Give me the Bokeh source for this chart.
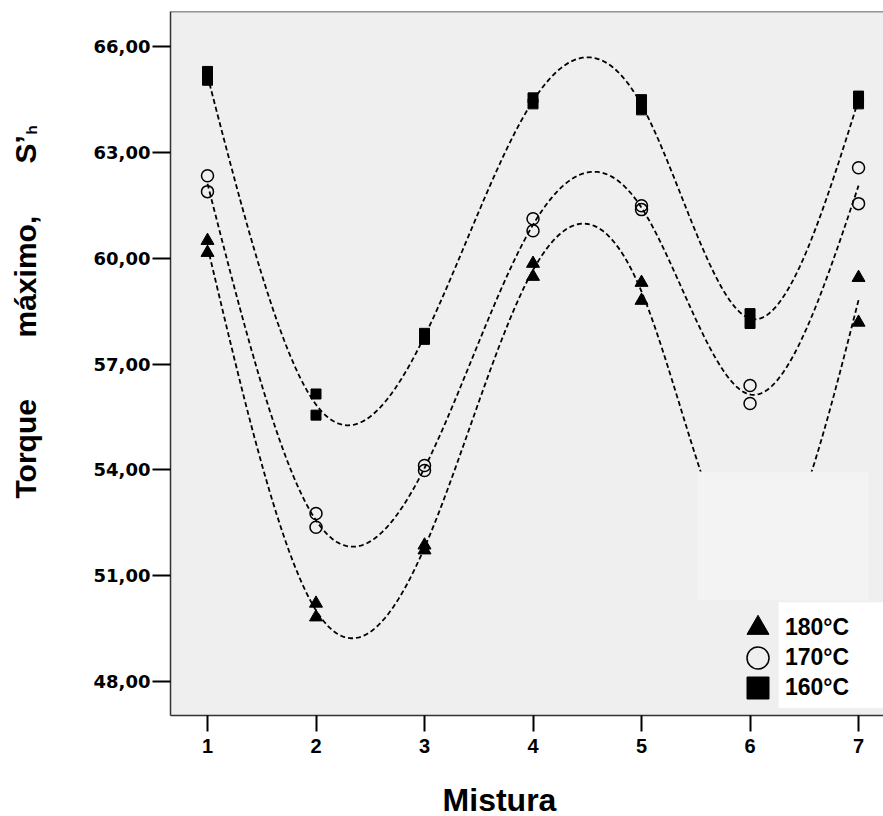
import math
import numpy as np
from bokeh.plotting import figure
from bokeh.layouts import row, column
from bokeh.models import (ColumnDataSource, Range1d, FixedTicker, Legend,
                          LegendItem, BoxAnnotation, Span)
from bokeh.core.properties import value
from bokeh.embed import file_html
from bokeh.resources import INLINE

# ---------------- data ----------------
mistura = [1, 1, 2, 2, 3, 3, 4, 4, 5, 5, 6, 6, 7, 7]
torque_160 = [65.30, 65.05, 56.15, 55.55, 57.87, 57.70, 64.55, 64.38,
              64.50, 64.21, 58.43, 58.15, 64.60, 64.38]
torque_170 = [62.34, 61.89, 52.76, 52.37, 54.12, 53.98, 61.12, 60.78,
              61.49, 61.38, 56.39, 55.88, 62.57, 61.55]
torque_180 = [60.50, 60.16, 50.21, 49.82, 51.86, 51.72, 59.85, 59.48,
              59.31, 58.80, 51.40, 51.00, 59.45, 58.18]
series_labels = ["180°C", "170°C", "160°C"]
x_ticks = [1, 2, 3, 4, 5, 6, 7]
y_ticks = [48, 51, 54, 57, 60, 63, 66]
y_tick_labels = ["48,00", "51,00", "54,00", "57,00", "60,00", "63,00", "66,00"]
y_title_words = ["Torque", "máximo,", "S’"]
y_title_sub = "h"
x_title = "Mistura"

BG = "#efefef"
FONT = "Liberation Sans"
W, H = 883, 816
LEFT_W = 60      # strip holding the y title
TOP_H = 770      # main plot row
BOTTOM_H = H - TOP_H  # strip holding the x title

p = figure(width=W - LEFT_W, height=TOP_H, output_backend="svg", toolbar_location=None,
           x_range=Range1d(0.659, 7.23), y_range=Range1d(47.03, 67.0),
           min_border_left=170 - LEFT_W, min_border_right=0, min_border_top=11,
           min_border_bottom=TOP_H - 715)
p.background_fill_color = BG
p.border_fill_color = "white"
p.outline_line_color = None
p.xgrid.visible = False
p.ygrid.visible = False


# smooth interpolating curve: natural cubic spline through the group means
def spline_curve(xv, yv, n=400):
    xs_u = np.unique(np.asarray(xv, dtype=float))
    ym = np.array([np.mean([b for a, b in zip(xv, yv) if a == u]) for u in xs_u])
    k = len(xs_u)
    h = np.diff(xs_u)
    A = np.zeros((k, k))
    r = np.zeros(k)
    A[0, 0] = A[-1, -1] = 1.0
    for i in range(1, k - 1):
        A[i, i - 1] = h[i - 1]
        A[i, i] = 2 * (h[i - 1] + h[i])
        A[i, i + 1] = h[i]
        r[i] = 6 * ((ym[i + 1] - ym[i]) / h[i] - (ym[i] - ym[i - 1]) / h[i - 1])
    M = np.linalg.solve(A, r)
    xs = np.linspace(xs_u[0], xs_u[-1], n)
    idx = np.clip(np.searchsorted(xs_u, xs) - 1, 0, k - 2)
    x0, x1 = xs_u[idx], xs_u[idx + 1]
    hh = x1 - x0
    t0, t1 = x1 - xs, xs - x0
    ys = (M[idx] * t0 ** 3 / (6 * hh) + M[idx + 1] * t1 ** 3 / (6 * hh)
          + (ym[idx] / hh - M[idx] * hh / 6) * t0
          + (ym[idx + 1] / hh - M[idx + 1] * hh / 6) * t1)
    return xs, ys


for vals in [torque_180, torque_170, torque_160]:
    xs, ys = spline_curve(mistura, vals)
    p.line(xs, ys, line_color="black", line_width=1.8, line_dash="5 3")

src = ColumnDataSource(dict(x=mistura, t160=torque_160, t170=torque_170, t180=torque_180))
r180 = p.scatter("x", "t180", source=src, marker="triangle", size=13,
                 fill_color="black", line_color="black")
r170 = p.scatter("x", "t170", source=src, marker="circle", size=12,
                 fill_color=None, line_color="black", line_width=1.5)
r160 = p.scatter("x", "t160", source=src, marker="square", size=10,
                 fill_color="black", line_color="black")

# area hidden by the legend region, and white legend panel
p.add_layout(BoxAnnotation(left=5.516, right=7.092, bottom=50.30, top=53.95,
                           fill_color="#f3f3f3", fill_alpha=1.0, line_color=None))
p.add_layout(BoxAnnotation(left=6.263, bottom=47.24, top=50.24,
                           fill_color="white", fill_alpha=1.0, line_color=None))

# one legend per entry so the rows sit close together with large keys
for i, (lab, rr) in enumerate(zip(series_labels, [r180, r170, r160])):
    lg = Legend(items=[LegendItem(label=lab, renderers=[rr])],
                location=(560, 60 - 30 * i), glyph_width=55, glyph_height=55,
                label_height=30, spacing=0, padding=0, margin=0,
                label_standoff=0, border_line_color=None,
                background_fill_alpha=0.0,
                label_text_font=FONT, label_text_font_style="bold",
                label_text_font_size="23px", label_text_color="black")
    p.add_layout(lg)

# top border
p.add_layout(Span(location=67.0, dimension="width", line_color="#333333", line_width=1.5))

# axes
xa = p.xaxis[0]
xa.ticker = FixedTicker(ticks=x_ticks)
xa.minor_tick_line_color = None
xa.major_tick_in = 0
xa.major_tick_out = 16
xa.major_tick_line_width = 2
xa.major_tick_line_color = "black"
xa.axis_line_color = "#333333"
xa.axis_line_width = 1.5
xa.major_label_standoff = 7
xa.major_label_text_font = FONT
xa.major_label_text_font_style = "bold"
xa.major_label_text_font_size = "20px"
xa.major_label_text_color = "black"

ya = p.yaxis[0]
ya.ticker = FixedTicker(ticks=y_ticks)
ya.major_label_overrides = {t: s for t, s in zip(y_ticks, y_tick_labels)}
ya.minor_tick_line_color = None
ya.major_tick_in = 0
ya.major_tick_out = 18
ya.major_tick_line_width = 2
ya.major_tick_line_color = "black"
ya.axis_line_color = "#333333"
ya.axis_line_width = 1.5
ya.major_label_standoff = 2
ya.major_label_text_font = "DejaVu Sans"
ya.major_label_text_font_style = "bold"
ya.major_label_text_font_size = "18px"
ya.major_label_text_color = "black"


def strip(width, height, xr, yr, **kw):
    f = figure(width=width, height=height, output_backend="svg", toolbar_location=None,
               x_range=xr, y_range=yr, x_axis_type=None, y_axis_type=None, **kw)
    f.outline_line_color = None
    f.xgrid.visible = False
    f.ygrid.visible = False
    f.background_fill_color = "white"
    f.border_fill_color = "white"
    return f


# ---- left strip: spread-out y title (coordinates = page pixels) ----
q = strip(LEFT_W, TOP_H, Range1d(0, LEFT_W), Range1d(715, 11),
          min_border_left=0, min_border_right=0, min_border_top=11,
          min_border_bottom=TOP_H - 715)
q.text(x=[25, 25, 25], y=[498, 337, 163], text=y_title_words, angle=math.pi / 2,
       text_font=value(FONT), text_font_style="bold", text_font_size="30px",
       text_color="black", text_baseline="alphabetic", text_align="left")
q.text(x=[31], y=[134], text=[y_title_sub], angle=math.pi / 2,
       text_font=value(FONT), text_font_style="bold", text_font_size="15px",
       text_color="black", text_baseline="alphabetic", text_align="left")

# ---- bottom strip: x title ----
b = strip(W, BOTTOM_H, Range1d(0, W), Range1d(BOTTOM_H, 0), min_border=0)
b.text(x=[499], y=[29], text=[x_title], text_font=value(FONT),
       text_font_style="bold", text_font_size="32px", text_color="black",
       text_baseline="alphabetic", text_align="center")

layout = column(row(q, p, spacing=0), b, spacing=0)
open("out.html", "w").write(file_html(layout, INLINE))
